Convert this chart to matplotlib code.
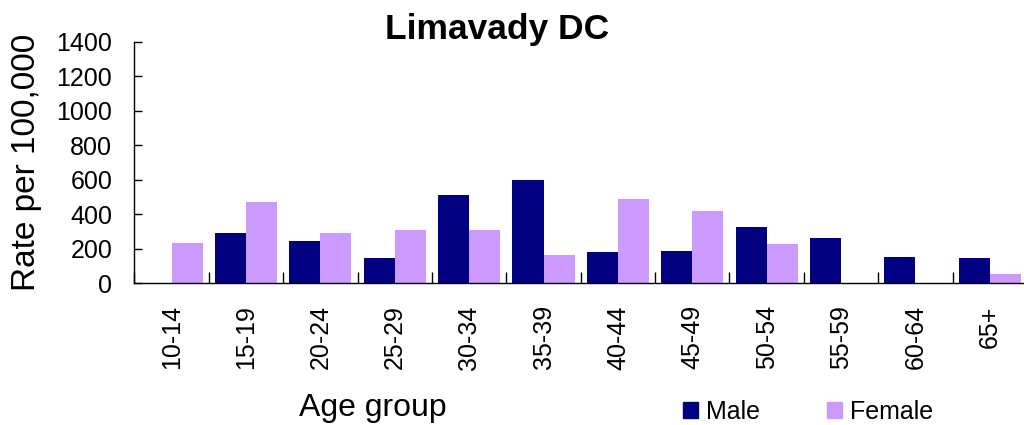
import matplotlib
matplotlib.use("Agg")
import matplotlib.pyplot as plt
from matplotlib.patches import Patch
import numpy as np

plt.rcParams['font.family'] = ['Liberation Sans', 'DejaVu Sans']

categories = ["10-14", "15-19", "20-24", "25-29", "30-34", "35-39",
              "40-44", "45-49", "50-54", "55-59", "60-64", "65+"]
male = [0, 292, 246, 147, 513, 600, 182, 188, 327, 263, 153, 147]
female = [234, 472, 292, 310, 310, 165, 490, 420, 228, 0, 0, 54]
yticks = [0, 200, 400, 600, 800, 1000, 1200, 1400]

male_color = "#000080"
female_color = "#CC99FF"

fig = plt.figure(figsize=(10.24, 4.25), dpi=100)
ax = fig.add_axes([0.1313, 0.3341, 0.8716, 0.5678])

x = np.arange(len(categories))
w = 0.4175
ax.bar(x - w / 2, male, width=w, color=male_color, label="Male")
ax.bar(x + w / 2, female, width=w, color=female_color, label="Female")

ax.set_xlim(-0.5, len(categories) - 0.5)
ax.set_ylim(0, 1400)
ax.set_yticks(yticks)
ax.set_yticklabels([str(v) for v in yticks])
ax.tick_params(axis='y', direction='in', length=6, width=1, labelsize=18, pad=16)

ax.set_xticks(x)
ax.set_xticklabels(categories, rotation=90, fontsize=18)
ax.set_xticks(np.arange(len(categories) + 1) - 0.5, minor=True)
ax.tick_params(axis='x', which='major', length=0, pad=16)
ax.tick_params(axis='x', which='minor', direction='in', length=8, width=1)

for s in ['top', 'right']:
    ax.spines[s].set_visible(False)
for s in ['left', 'bottom']:
    ax.spines[s].set_linewidth(1)
    ax.spines[s].set_color('black')

ax.set_ylabel("Rate per 100,000", fontsize=24)
ax.yaxis.set_label_coords(-0.104, 0.5)

fig.text(497 / 1024, 1 - 30 / 425, "Limavady DC", fontsize=25.5,
         fontweight='bold', ha='center', va='center')
fig.text(373 / 1024, 1 - 408 / 425, "Age group", fontsize=23,
         ha='center', va='center')

handles = [Patch(color=male_color, label="Male"),
           Patch(color=female_color, label="Female")]
fig.legend(handles=handles, loc='center', ncol=2,
           bbox_to_anchor=(808 / 1024, 1 - 412 / 425), frameon=False,
           fontsize=18, handlelength=0.6, handleheight=0.6,
           handletextpad=0.3, columnspacing=2.7)

fig.savefig("out.png", dpi=100)
